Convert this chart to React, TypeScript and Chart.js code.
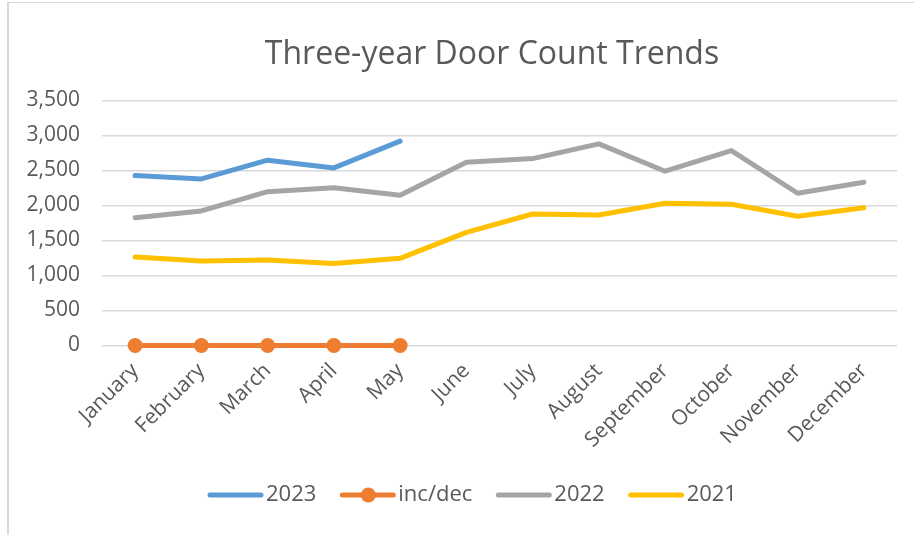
import React, { useEffect, useRef } from "react";
import { Chart, registerables } from "chart.js";

Chart.register(...registerables);

const months = [
  "January", "February", "March", "April", "May", "June",
  "July", "August", "September", "October", "November", "December",
];
const series2023 = [2427, 2380, 2647, 2537, 2919];
const seriesIncDec = [0, 0, 0, 0, 0];
const series2022 = [1826, 1922, 2198, 2255, 2146, 2618, 2670, 2880, 2490, 2785, 2175, 2332];
const series2021 = [1263, 1206, 1220, 1173, 1245, 1617, 1879, 1864, 2032, 2017, 1846, 1969];
const yMax = 3500;
const yStep = 500;
const titleText = "Three-year Door Count Trends";

const FONT = "'Open Sans', sans-serif";
const TEXT = "#595959";

const overlayPlugin = {
  id: "overlay",
  afterDraw(chart: any) {
    const ctx = chart.ctx as CanvasRenderingContext2D;
    ctx.save();
    // title
    ctx.fillStyle = TEXT;
    ctx.font = `32px ${FONT}`;
    ctx.textAlign = "center";
    ctx.textBaseline = "middle";
    ctx.fillText(titleText, 492, 55);

    // legend
    ctx.font = `22px ${FONT}`;
    ctx.textAlign = "left";
    let x = 208;
    const y = 495;
    chart.data.datasets.forEach((ds: any) => {
      ctx.strokeStyle = ds.borderColor;
      ctx.lineWidth = 5;
      ctx.lineCap = "round";
      ctx.beginPath();
      ctx.moveTo(x + 2, y);
      ctx.lineTo(x + 53, y);
      ctx.stroke();
      if (ds.pointRadius > 0) {
        ctx.fillStyle = ds.pointBackgroundColor;
        ctx.beginPath();
        ctx.arc(x + 28, y, ds.pointRadius, 0, Math.PI * 2);
        ctx.fill();
      }
      ctx.fillStyle = TEXT;
      ctx.fillText(ds.label, x + 58, y);
      x += 58 + ctx.measureText(ds.label).width + 24;
    });
    ctx.restore();
  },
};

export default function App() {
  const ref = useRef<HTMLCanvasElement>(null);
  useEffect(() => {
    if (!ref.current) return;
    const mk = (label: string, data: number[], color: string, marker = false) => ({
      label,
      data,
      borderColor: color,
      backgroundColor: color,
      borderWidth: 5,
      borderCapStyle: "round",
      borderJoinStyle: "round",
      pointRadius: marker ? 7.5 : 0,
      pointHoverRadius: marker ? 7.5 : 0,
      pointBackgroundColor: color,
      pointBorderWidth: 0,
      tension: 0,
      fill: false,
      clip: false,
    });
    const chart = new Chart(ref.current, {
      type: "line",
      data: {
        labels: months,
        datasets: [
          mk("2023", series2023, "#5B9BD5"),
          mk("inc/dec", seriesIncDec, "#ED7D31", true),
          mk("2022", series2022, "#A5A5A5"),
          mk("2021", series2021, "#FFC000"),
        ] as any,
      },
      options: {
        animation: false,
        responsive: false,
        maintainAspectRatio: false,
        layout: { padding: { left: 0, top: 100.5, right: 17, bottom: 0 } },
        plugins: {
          legend: { display: false },
          title: { display: false },
          tooltip: { enabled: false },
        },
        scales: {
          x: {
            offset: true,
            grid: { display: false, drawTicks: false },
            border: { display: false },
            ticks: {
              minRotation: 45,
              maxRotation: 45,
              autoSkip: false,
              padding: 13,
              color: TEXT,
              font: { family: FONT, size: 21 },
            },
            afterFit(scale: any) {
              scale.height = 189.5;
            },
          },
          y: {
            min: 0,
            max: yMax,
            grid: { color: "#d9d9d9", lineWidth: 1.5, drawTicks: false },
            border: { display: false },
            ticks: {
              stepSize: yStep,
              padding: 22,
              color: TEXT,
              font: { family: FONT, size: 21 },
            },
            afterFit(scale: any) {
              scale.width = 102;
            },
          },
        },
      },
      plugins: [overlayPlugin],
    });
    return () => chart.destroy();
  }, []);

  return (
    <>
      <div
        style={{
          position: "fixed",
          left: 7,
          top: 2,
          width: 1000,
          height: 1000,
          borderLeft: "2px solid #d9d9d9",
          borderTop: "1px solid #d9d9d9",
          background: "#fff",
        }}
      />
      <canvas
        ref={ref}
        width={914}
        height={535}
        style={{ position: "fixed", left: 0, top: 0, width: 914, height: 535 }}
      />
    </>
  );
}
